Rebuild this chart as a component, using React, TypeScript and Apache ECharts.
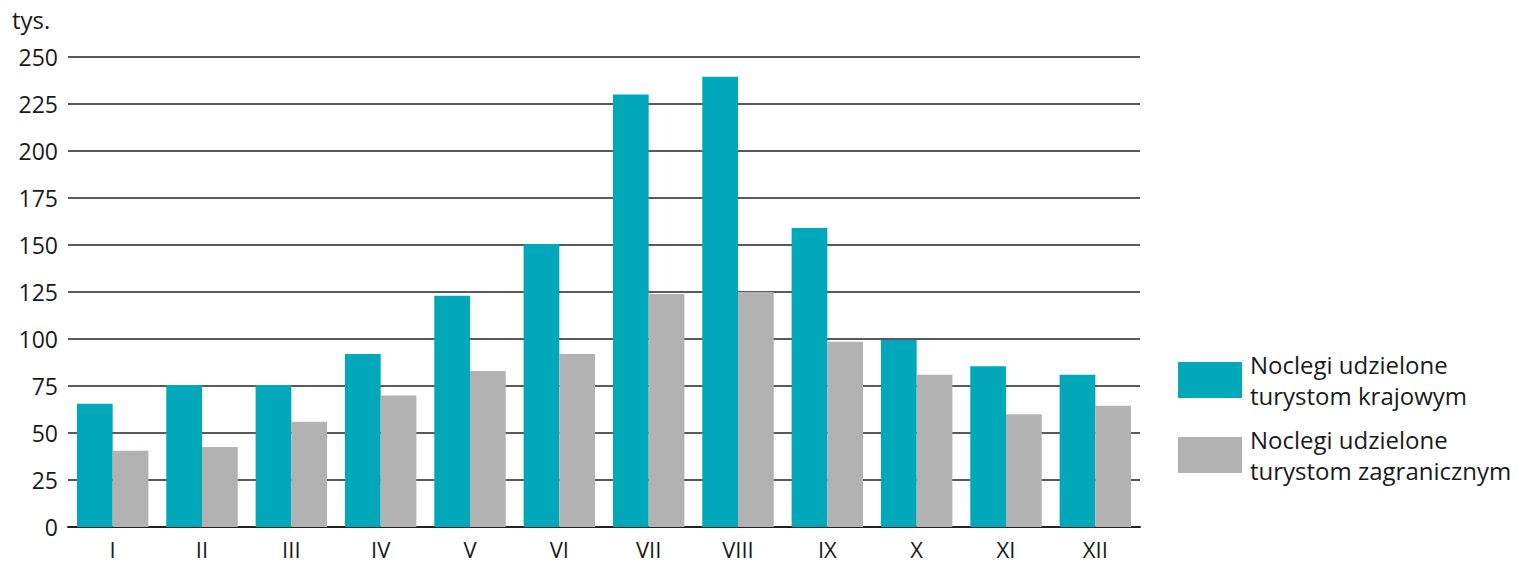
import React, { useEffect, useRef } from "react";
import * as echarts from "echarts";

const months = ["I", "II", "III", "IV", "V", "VI", "VII", "VIII", "IX", "X", "XI", "XII"];
const domestic = [65.5, 75.5, 75.5, 92, 123, 150.5, 230, 239.5, 159, 99.5, 85.5, 81];
const foreign = [40.5, 42.5, 56, 70, 83, 92, 124, 125, 98.5, 81, 60, 64.5];
const seriesNames = ["Noclegi udzielone turystom krajowym", "Noclegi udzielone turystom zagranicznym"];
const colors = ["#00A8BA", "#B1B2B1"];
const font = "Open Sans";

export default function App() {
  const ref = useRef<HTMLDivElement>(null);
  useEffect(() => {
    if (!ref.current) return;
    document.body.style.margin = "0";
    const chart = echarts.init(ref.current, undefined, { renderer: "svg" });
    chart.setOption({
      animation: false,
      textStyle: { fontFamily: font, color: "#1a1a1a" },
      grid: { left: 68, right: 386, top: 57, bottom: 37, containLabel: false, outerBoundsMode: "none" },
      legend: {
        orient: "vertical",
        left: 1173,
        top: 344,
        itemWidth: 64,
        itemHeight: 36,
        itemGap: 13,
        icon: "rect",
        selectedMode: false,
        formatter: (n: string) => n.replace(" turystom", "\nturystom"),
        textStyle: { fontFamily: font, fontSize: 24, color: "#1a1a1a", lineHeight: 31, padding: [0, 0, 0, 3] },
      },
      graphic: [
        { type: "text", left: 12, top: 7, style: { text: "tys.", font: `24px "Open Sans"`, fill: "#1a1a1a" } },
      ],
      xAxis: {
        type: "category",
        data: months,
        axisTick: { show: false },
        axisLine: { lineStyle: { color: "#222", width: 2 } },
        axisLabel: { fontSize: 22, lineHeight: 18, color: "#1a1a1a", margin: 13, fontFamily: font },
      },
      yAxis: {
        type: "value",
        min: 0,
        max: 250,
        interval: 25,
        axisLine: { show: false },
        axisTick: { show: false },
        axisLabel: { fontSize: 23, color: "#1a1a1a", margin: 10, fontFamily: font },
        splitLine: { lineStyle: { color: "#222", width: 1.5 } },
      },
      series: [
        { name: seriesNames[0], type: "bar", data: domestic, itemStyle: { color: colors[0] }, barGap: "0%", barCategoryGap: "20%" },
        { name: seriesNames[1], type: "bar", data: foreign, itemStyle: { color: colors[1] }, barGap: "0%", barCategoryGap: "20%" },
      ],
    });
    return () => chart.dispose();
  }, []);
  return <div ref={ref} style={{ width: 1526, height: 564 }} />;
}
